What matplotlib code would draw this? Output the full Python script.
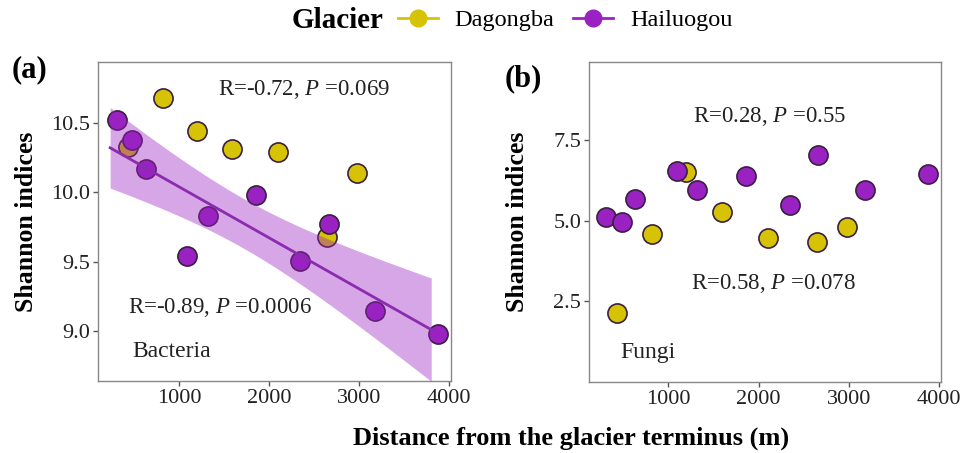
import numpy as np
import matplotlib
matplotlib.use("Agg")
import matplotlib.pyplot as plt
from matplotlib.lines import Line2D

plt.rcParams['font.family'] = ['Liberation Serif', 'DejaVu Serif']
plt.rcParams['mathtext.fontset'] = 'custom'
plt.rcParams['mathtext.rm'] = 'Liberation Serif'
plt.rcParams['mathtext.it'] = 'Liberation Serif:italic'

# ---------------- data ----------------
glaciers = ["Dagongba", "Hailuogou"]
dag_dist = [430, 820, 1200, 1590, 2105, 2645, 2983]
hai_dist = [235, 410, 560, 1020, 1245, 1783, 2275, 2589, 3107, 3802]

dag_bacteria = [10.33, 10.68, 10.44, 10.31, 10.29, 9.68, 10.14]
hai_bacteria = [10.52, 10.38, 10.17, 9.54, 9.83, 9.98, 9.51, 9.77, 9.15, 8.98]

dag_fungi = [2.14, 4.58, 6.52, 5.27, 4.48, 4.33, 4.82]
hai_fungi = [5.13, 4.98, 5.69, 6.56, 5.95, 6.39, 5.48, 7.03, 5.97, 6.46]

xticks = [1000, 2000, 3000, 4000]
yticks_a = [9.0, 9.5, 10.0, 10.5]
yticks_b = [2.5, 5.0, 7.5]

stats_a = ["R=-0.72, $\\mathit{P}$ =0.069", "R=-0.89, $\\mathit{P}$ =0.0006"]
stats_b = ["R=0.28, $\\mathit{P}$ =0.55", "R=0.58, $\\mathit{P}$ =0.078"]

# ---------------- style ----------------
YEL = "#D6C305"
PUR = "#9B22C2"
EDGE = "#3a2040"
NUDGE = 72  # point position nudge for Hailuogou

W, H = 960, 453
fig = plt.figure(figsize=(W / 100, H / 100), dpi=100)

def fr(l, r, t, b):
    return [l / W, 1 - b / H, (r - l) / W, (b - t) / H]

ax_a = fig.add_axes(fr(98, 451, 62, 381))
ax_b = fig.add_axes(fr(589, 941, 62, 382))

def style(ax):
    for s in ax.spines.values():
        s.set_color("#888888")
        s.set_linewidth(1.0)
    ax.tick_params(axis='both', colors="#555555", labelcolor="#222222",
                   labelsize=16, length=3.5, width=1.0, pad=2)
    ax.set_ylabel("Shannon indices", fontsize=18.5, fontweight='bold')
    ax.yaxis.set_label_coords(-0.17, 0.5)

def pts(ax, x, y, c, z=2):
    ax.scatter(x, y, s=190, c=c, edgecolors=EDGE, linewidths=1.2, zorder=z)

# panel a
hx = np.array(hai_dist, float)
hy = np.array(hai_bacteria, float)
pts(ax_a, dag_dist, dag_bacteria, YEL)
pts(ax_a, hx + NUDGE, hy, PUR)
n = len(hx)
b1, b0 = np.polyfit(hx, hy, 1)
xs = np.linspace(hx.min(), hx.max(), 100)
res = hy - (b0 + b1 * hx)
s = np.sqrt(np.sum(res ** 2) / (n - 2))
sxx = np.sum((hx - hx.mean()) ** 2)
se = s * np.sqrt(1 / n + (xs - hx.mean()) ** 2 / sxx)
tval = 2.306
yfit = b0 + b1 * xs
ax_a.fill_between(xs, yfit - tval * se, yfit + tval * se, color=PUR, alpha=0.4,
                  linewidth=0, zorder=3)
ax_a.plot(xs, yfit, color="#8A2BB0", lw=2, zorder=4)
ax_a.set_xlim(100, 4022)
ax_a.set_ylim(8.644, 10.938)
ax_a.set_xticks(xticks)
ax_a.set_yticks(yticks_a)
ax_a.set_yticklabels([f"{v:.1f}" for v in yticks_a])
style(ax_a)
ax_a.text(0.584, 0.915, stats_a[0], transform=ax_a.transAxes, ha='center', va='center', fontsize=16.5, color="#222222")
ax_a.text(0.085, 0.229, stats_a[1], transform=ax_a.transAxes, ha='left', va='center', fontsize=16.5, color="#222222")
ax_a.text(0.096, 0.091, "Bacteria", transform=ax_a.transAxes, ha='left', va='center', fontsize=17, color="#222222")

# panel b
pts(ax_b, dag_dist, dag_fungi, YEL)
pts(ax_b, np.array(hai_dist) + NUDGE, hai_fungi, PUR)
ax_b.set_xlim(122, 4019)
ax_b.set_ylim(0.0, 9.93)
ax_b.set_xticks(xticks)
ax_b.set_yticks(yticks_b)
ax_b.set_yticklabels([f"{v:.1f}" for v in yticks_b])
style(ax_b)
ax_b.text(0.514, 0.831, stats_b[0], transform=ax_b.transAxes, ha='center', va='center', fontsize=16.5, color="#222222")
ax_b.text(0.523, 0.307, stats_b[1], transform=ax_b.transAxes, ha='center', va='center', fontsize=16.5, color="#222222")
ax_b.text(0.088, 0.091, "Fungi", transform=ax_b.transAxes, ha='left', va='center', fontsize=17, color="#222222")

# panel labels
fig.text(12 / W, 1 - 70 / H, "(a)", fontsize=22, fontweight='bold', ha='left', va='center')
fig.text(505 / W, 1 - 79 / H, "(b)", fontsize=22, fontweight='bold', ha='left', va='center')

# x label
fig.text(571 / W, 1 - 438 / H, "Distance from the glacier terminus (m)", fontsize=19,
         fontweight='bold', ha='center', va='center')

# legend
fig.text(338 / W, 1 - 20 / H, "Glacier", fontsize=21, fontweight='bold', ha='center', va='center')
handles = [Line2D([], [], color=YEL, marker='o', markersize=12, lw=2),
           Line2D([], [], color=PUR, marker='o', markersize=12, lw=2)]
fig.legend(handles, glaciers, loc='center', bbox_to_anchor=(565 / W, 1 - 20 / H),
           ncol=2, frameon=False, fontsize=17.5, handlelength=1.65, handletextpad=0.7,
           columnspacing=0.75, borderpad=0, borderaxespad=0)

fig.savefig("out.png", dpi=100)
